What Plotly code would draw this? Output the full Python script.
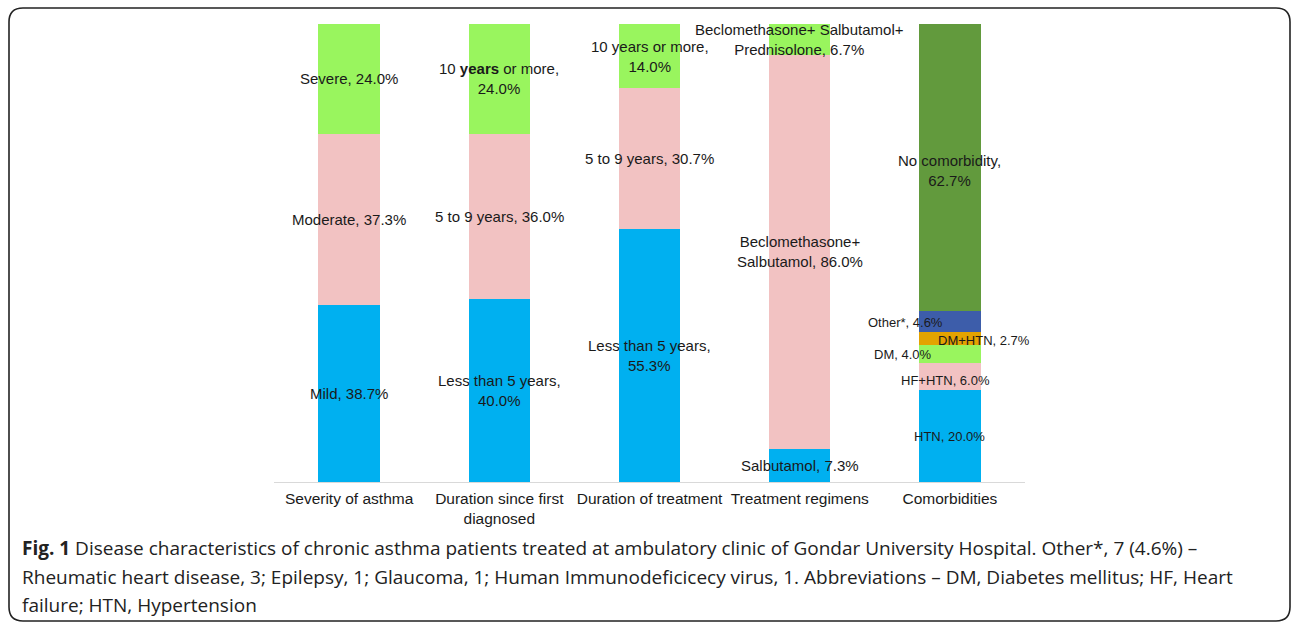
import plotly.graph_objects as go

# ---------------- data ----------------
categories = ["Severity of asthma", "Duration since first<br>diagnosed",
              "Duration of treatment", "Treatment regimens", "Comorbidities"]

severity_names = ["Mild, {v}", "Moderate, {v}", "Severe, {v}"]
severity_values = [38.7, 37.3, 24.0]

first_diag_names = ["Less than 5 years,<br>{v}", "5 to 9 years, {v}", "10 <b>years</b> or more,<br>{v}"]
first_diag_values = [40.0, 36.0, 24.0]

treat_dur_names = ["Less than 5 years,<br>{v}", "5 to 9 years, {v}", "10 years or more,<br>{v}"]
treat_dur_values = [55.3, 30.7, 14.0]

regimen_names = ["Salbutamol, {v}", "Beclomethasone+<br>Salbutamol, {v}",
                 "Beclomethasone+ Salbutamol+<br>Prednisolone, {v}"]
regimen_values = [7.3, 86.0, 6.7]

comorb_names = ["HTN, {v}", "HF+HTN, {v}", "DM, {v}", "DM+HTN, {v}", "Other*, {v}",
                "No comorbidity,<br>{v}"]
comorb_values = [20.0, 6.0, 4.0, 2.7, 4.6, 62.7]

# ---------------- styles ----------------
BLUE, PINK, LGREEN = "#00B0F0", "#F2C2C2", "#99F55E"
YELLOW, DBLUE, DGREEN = "#E3A300", "#3D5DAA", "#629A3D"
three_colors = [BLUE, PINK, LGREEN]
comorb_colors = [BLUE, PINK, LGREEN, YELLOW, DBLUE, DGREEN]
# label pixel shifts for comorbidity labels (xshift, yshift, font size)
comorb_style = [(0, 0, 13), (-4, -4, 13), (-47, -1, 13), (34, -2, 13), (-44, -1, 13), (0, -3, 15)]

groups = [
    (categories[0], severity_names, severity_values, three_colors, None),
    (categories[1], first_diag_names, first_diag_values, three_colors, None),
    (categories[2], treat_dur_names, treat_dur_values, three_colors, None),
    (categories[3], regimen_names, regimen_values, three_colors, None),
    (categories[4], comorb_names, comorb_values, comorb_colors, comorb_style),
]

TEXT = "#1A1A1A"
LABEL_FONT = "Liberation Sans, Arial, sans-serif"

fig = go.Figure()
annotations = []
for cat, names, vals, cols, style in groups:
    base = 0.0
    for i, (nm, v, c) in enumerate(zip(names, vals, cols)):
        fig.add_trace(go.Bar(x=[cat], y=[v], marker=dict(color=c, line=dict(width=0)),
                             showlegend=False, hoverinfo="skip", width=0.41))
        xs, ys, fs = (style[i] if style else (0, 0, 15))
        annotations.append(dict(
            x=cat, y=base + v / 2, xref="x", yref="y",
            text=nm.format(v=f"{v:.1f}%"), showarrow=False,
            xshift=xs, yshift=ys, align="center",
            font=dict(family=LABEL_FONT, size=fs, color=TEXT)))
        base += v

# ---------------- layout geometry (pixels) ----------------
W, H = 1292, 624
L, R, T, B = 274, 267, 24, 142
pw, ph = W - L - R, H - T - B


def px(x):
    return (x - L) / pw


def py(y):
    return (H - B - y) / ph


# caption lines
caption_lines = [
    "<b>Fig. 1</b> Disease characteristics of chronic asthma patients treated at ambulatory clinic of Gondar University Hospital. Other*, 7 (4.6%) –",
    "Rheumatic heart disease, 3; Epilepsy, 1; Glaucoma, 1; Human Immunodeficicecy virus, 1. Abbreviations – DM, Diabetes mellitus; HF, Heart",
    "failure; HTN, Hypertension",
]
caption_y = [548, 577, 605]
for line, yy in zip(caption_lines, caption_y):
    annotations.append(dict(x=px(20), y=py(yy), xref="paper", yref="paper",
                            xanchor="left", yanchor="middle", showarrow=False,
                            text=line, align="left",
                            font=dict(family="Open Sans, sans-serif", size=19, color="#222222")))

# rounded border
x0, y0, x1, y1, r = px(9), py(8), px(1290), py(621), 14
rx, ry = r / pw, r / ph
path = (f"M {x0+rx},{y0} L {x1-rx},{y0} Q {x1},{y0} {x1},{y0-ry} "
        f"L {x1},{y1+ry} Q {x1},{y1} {x1-rx},{y1} L {x0+rx},{y1} "
        f"Q {x0},{y1} {x0},{y1+ry} L {x0},{y0-ry} Q {x0},{y0} {x0+rx},{y0} Z")

fig.update_layout(
    barmode="stack",
    width=W, height=H,
    margin=dict(l=L, r=R, t=T, b=B, pad=0),
    paper_bgcolor="white", plot_bgcolor="white",
    bargap=0.59,
    annotations=annotations,
    shapes=[dict(type="path", path=path, xref="paper", yref="paper",
                 line=dict(color="#222222", width=1.6), layer="above")],
    xaxis=dict(showgrid=False, showline=True, linecolor="#D9D9D9", linewidth=1,
               ticks="", ticklabelstandoff=2,
               tickfont=dict(family=LABEL_FONT, size=15.5, color=TEXT),
               range=[-0.5, 4.5]),
    yaxis=dict(range=[0, 100], visible=False, showgrid=False, zeroline=False),
)

fig.write_html("out.html", config={"displayModeBar": False},
               post_script="document.body.style.margin='0px';document.body.style.padding='0px';")
